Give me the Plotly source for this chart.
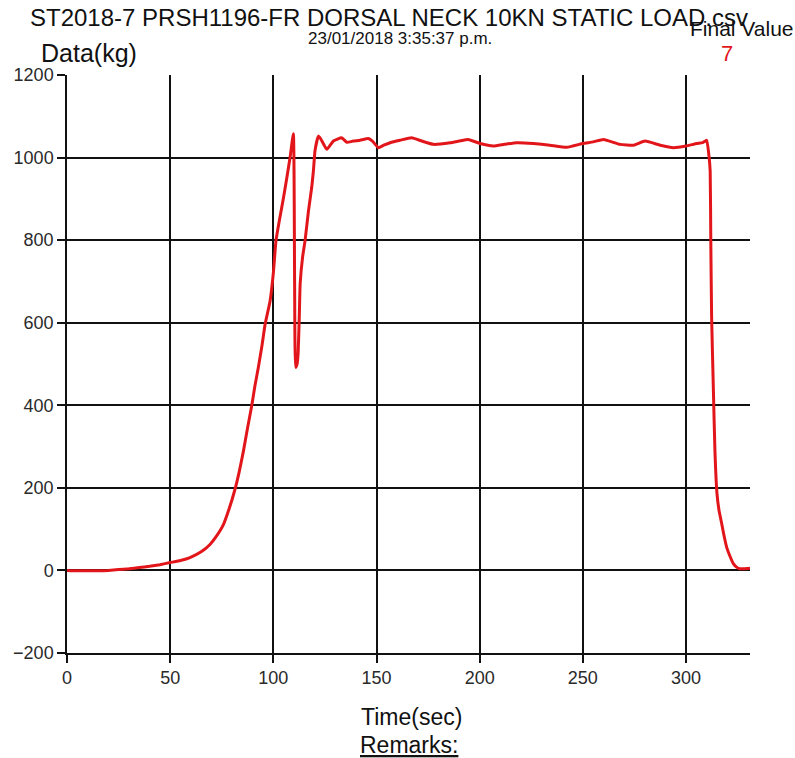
import plotly.graph_objects as go

# ---- data ----
time_sec = [0, 5, 10, 15, 20, 25, 30, 35, 40, 45, 50, 55, 59.6, 65, 69.3, 72, 75.8, 78.5,
            81.4, 83.5, 85.5, 87.5, 89.5, 91, 92.7, 94.5, 96, 98.4, 100, 101.3, 103, 105,
            106.5, 108.1, 109.7, 110.3, 110.8, 111.5, 112, 112.6, 113, 114.2, 115.4, 117,
            118.6, 119.4, 120.2, 121.8, 123, 125.9, 129.1, 133.1, 135.6, 138.8, 142, 146,
            148, 150.9, 153.5, 156.6, 161.4, 167, 172, 177.6, 185.7, 190, 194.5, 200.2,
            206.6, 212, 218, 226, 234, 242.2, 250, 255, 260, 268, 274.5, 280.2, 287.5,
            293.9, 300, 305.2, 308, 310, 311.2, 311.7, 312, 312.4, 313.3, 314, 315, 316,
            317.3, 318.5, 319.7, 321.5, 323, 324.5, 326, 328, 331]
load_kg = [0, -1, -1, -1, 0, 2, 4, 7, 10, 14, 19, 24, 31, 45, 63, 80, 111, 148,
           196, 240, 289, 345, 398, 445, 491, 545, 596, 652, 720, 800, 850, 905,
           950, 1000, 1058, 700, 492, 500, 525, 620, 695, 760, 800, 870,
           928, 967, 1017, 1052, 1045, 1020, 1040, 1048, 1037, 1040, 1042, 1046,
           1040, 1024, 1030, 1036, 1042, 1048, 1040, 1032, 1036, 1040, 1044, 1034,
           1028, 1032, 1036, 1034, 1030, 1025, 1034, 1038, 1044, 1032, 1030, 1040, 1030,
           1024, 1028, 1034, 1036, 1042, 1000, 967, 800, 614, 428, 291, 186, 145,
           113, 82, 56, 32, 16, 8, 4, 4, 5]

x_ticks = [0, 50, 100, 150, 200, 250, 300]
y_ticks = [-200, 0, 200, 400, 600, 800, 1000, 1200]

title_text = "ST2018-7 PRSH1196-FR DORSAL NECK 10KN STATIC LOAD.csv"
date_text = "23/01/2018 3:35:37 p.m."
y_label = "Data(kg)"
x_label = "Time(sec)"
remarks_text = "Remarks:"
final_label = "Final Value"
final_value = "7"

# ---- layout geometry (pixels) ----
W, H = 795, 758
L, R, T, B = 67, 45, 75, 105
pw, ph = W - L - R, H - T - B

def px(xp):
    return (xp - L) / pw

def py(yp):
    return (H - B - yp) / ph

FONT = "Liberation Sans, Arial, sans-serif"
RED = "#e2161a"

fig = go.Figure()
fig.add_trace(go.Scatter(x=time_sec, y=load_kg, mode="lines",
                         line=dict(color=RED, width=3, shape="spline", smoothing=0.4),
                         showlegend=False, hoverinfo="x+y"))

axis_common = dict(showgrid=True, gridcolor="#111111", gridwidth=1.5,
                   showline=True, linecolor="#111111", linewidth=1.5,
                   ticks="outside", ticklen=8, tickwidth=1.5, tickcolor="#111111",
                   zeroline=False, tickfont=dict(family=FONT, size=18, color="#2a2a2a"))

fig.update_xaxes(range=[0, 331], tickvals=x_ticks, **axis_common)
fig.update_yaxes(range=[-200, 1200], tickvals=y_ticks, **axis_common)

def ann(text, xp, yp, size, color="#111111", xanchor="center"):
    fig.add_annotation(text=text, xref="paper", yref="paper", x=px(xp), y=py(yp),
                       xanchor=xanchor, yanchor="middle", showarrow=False,
                       font=dict(family=FONT, size=size, color=color))

ann(title_text, 389, 17, 24)
ann(date_text, 400, 39, 17)
ann(y_label, 89, 53, 25)
ann(final_label, 796, 29, 21, xanchor="right")
ann(final_value, 727, 53, 22, color=RED)
ann(x_label, 411, 717, 23)
ann("<u>" + remarks_text + "</u>", 409, 745, 23)

fig.update_layout(width=W, height=H, margin=dict(l=L, r=R, t=T, b=B),
                  paper_bgcolor="white", plot_bgcolor="white",
                  font=dict(family=FONT))

fig.write_html("out.html")
